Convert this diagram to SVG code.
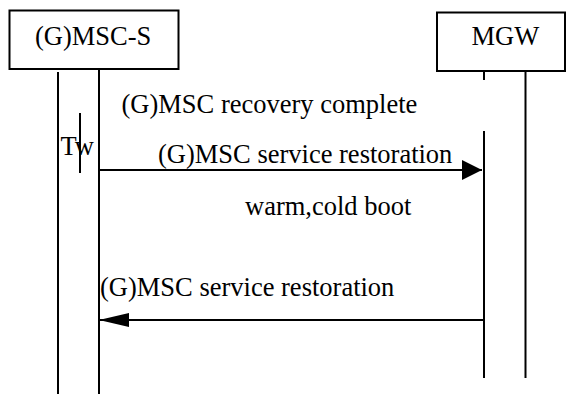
<svg xmlns="http://www.w3.org/2000/svg" width="566" height="394" viewBox="0 0 566 394">
<style>
.box{fill:#fff;stroke:#000;stroke-width:2}
.ln{stroke:#000;stroke-width:2;fill:none}
.t{font-family:"Liberation Serif","Times New Roman",serif;font-size:26.5px;fill:#000}
</style>
<defs>
<marker id="ah1" markerUnits="userSpaceOnUse" markerWidth="22" markerHeight="22" refX="20" refY="10" orient="auto"><path d="M0,0 L20,10 L0,20 Z" fill="#000"/></marker>
<marker id="ah2" markerUnits="userSpaceOnUse" markerWidth="32" markerHeight="16" refX="30" refY="7" orient="auto"><path d="M0,0 L30,7 L0,14 Z" fill="#000"/></marker>
</defs>
<rect width="566" height="394" fill="#fff"/>
<g id="msc">
<rect class="box" x="9.5" y="10.5" width="169" height="58.5"/>
<text class="t" x="35" y="45">(G)MSC-S</text>
<line class="ln" x1="58" y1="72" x2="58" y2="394"/>
<line class="ln" x1="99" y1="69" x2="99" y2="394"/>
</g>
<g id="mgw">
<rect class="box" x="437" y="12.5" width="128" height="58.5"/>
<text class="t" x="471.5" y="45">MGW</text>
<line class="ln" x1="484" y1="71" x2="484" y2="80"/>
<line class="ln" x1="484" y1="131" x2="484" y2="378"/>
<line class="ln" x1="525.5" y1="71" x2="525.5" y2="378"/>
</g>
<g id="timer">
<line class="ln" x1="80" y1="113" x2="80" y2="173"/>
<text class="t" x="60.5" y="155">Tw</text>
</g>
<g id="connectors">
<text class="t" x="121.5" y="113">(G)MSC recovery complete</text>
<text class="t" x="158" y="163">(G)MSC service restoration</text>
<line class="ln" x1="99" y1="170" x2="482" y2="170" marker-end="url(#ah1)"/>
<text class="t" x="245" y="215">warm,cold boot</text>
<text class="t" x="100" y="296">(G)MSC service restoration</text>
<line class="ln" x1="484" y1="320" x2="99" y2="320" marker-end="url(#ah2)"/>
</g>
</svg>
